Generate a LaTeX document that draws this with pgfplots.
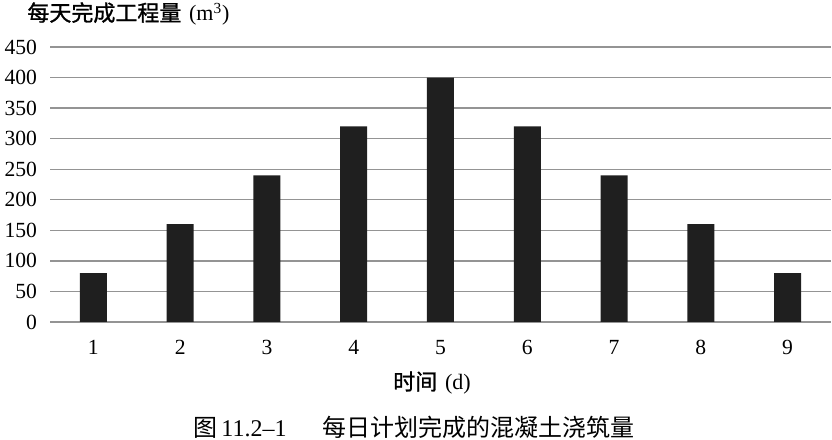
\documentclass[border=0pt]{standalone}
\usepackage{fontspec}
\setmainfont{Liberation Serif}
\newfontfamily\cjk{Noto Sans CJK SC}
\newfontfamily\cjkm[FakeBold=1.2]{Noto Sans CJK SC}
\usepackage{pgfplots}
\pgfplotsset{compat=1.18}
\begin{document}
\begin{tikzpicture}
\useasboundingbox (0,0) rectangle (416pt,220pt);
\begin{axis}[
  at={(25pt,59pt)}, anchor=south west,
  scale only axis, width=390.5pt, height=137.5pt,
  xmin=0.5, xmax=9.5, ymin=0, ymax=450,
  ybar, bar width=13.5pt,
  xtick={1,...,9}, ytick={0,50,...,450},
  axis line style={draw=none},
  major tick length=0pt,
  ymajorgrids, grid style={black!42, line width=0.7pt},
  tick label style={font=\fontsize{10.8}{12}\selectfont},
  /pgf/number format/assume math mode=true,
  yticklabel style={xshift=-3pt},
  xticklabel style={yshift=-5.5pt},
  clip=false,
]
\addplot[fill=black!88, draw=none] coordinates {
  (1,80) (2,160) (3,240) (4,320) (5,400) (6,320) (7,240) (8,160) (9,80)
};
\end{axis}
\node[anchor=west, inner sep=0pt] at (13.5pt,213pt)
  {\fontsize{11}{13}\selectfont{\cjkm 每天完成工程量}\hspace{0.35em}(m\textsuperscript{3})};
\node[inner sep=0pt] at (216pt,28.5pt)
  {\fontsize{11}{13}\selectfont{\cjkm 时间}\hspace{0.35em}(d)};
\node[inner sep=0pt] at (207pt,6.5pt)
  {\fontsize{12}{14}\selectfont{\cjk 图}\,11.2--1\hspace{1.5em}{\cjk 每日计划完成的混凝土浇筑量}};
\end{tikzpicture}
\end{document}
